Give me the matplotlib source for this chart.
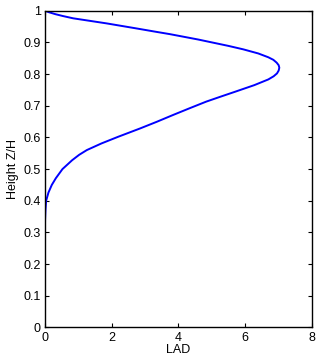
import matplotlib
matplotlib.use("Agg")
import matplotlib.pyplot as plt

plt.rcParams['font.family'] = ['Liberation Sans', 'DejaVu Sans']

# LAD profile (height ascending)
height = [0.0, 0.20, 0.25, 0.30, 0.34, 0.37, 0.40, 0.426, 0.45, 0.471, 0.50, 0.528,
          0.545, 0.56, 0.581, 0.602, 0.628, 0.649, 0.671, 0.692, 0.713, 0.729, 0.744,
          0.765, 0.783, 0.793, 0.802, 0.811, 0.820, 0.828, 0.836, 0.845, 0.853, 0.865,
          0.878, 0.889, 0.899, 0.909, 0.918, 0.926, 0.934, 0.944, 0.952, 0.960, 0.968,
          0.976, 0.983, 0.989, 0.995, 1.0]
lad = [0.0, 0.0, 0.001, 0.003, 0.008, 0.02, 0.04, 0.11, 0.21, 0.33, 0.53, 0.82,
       1.03, 1.26, 1.70, 2.20, 2.85, 3.35, 3.85, 4.34, 4.84, 5.28, 5.70,
       6.28, 6.70, 6.86, 6.96, 7.01, 7.03, 7.01, 6.95, 6.85, 6.70, 6.40,
       5.95, 5.50, 5.05, 4.60, 4.15, 3.75, 3.30, 2.75, 2.30, 1.85, 1.35,
       0.85, 0.55, 0.32, 0.13, 0.0]

xticks = [0, 2, 4, 6, 8]
yticks = [0, 0.1, 0.2, 0.3, 0.4, 0.5, 0.6, 0.7, 0.8, 0.9, 1]
ytick_labels = ["0", "0.1", "0.2", "0.3", "0.4", "0.5", "0.6", "0.7", "0.8", "0.9", "1"]

fig = plt.figure(figsize=(3.2, 3.63), dpi=100)
ax = fig.add_axes([0.140, 0.098, 0.834, 0.8725])
ax.plot(lad, height, color='#0000ff', linewidth=1.4, solid_joinstyle='round')
ax.set_xlim(0, 8)
ax.set_ylim(0, 1)
ax.set_xticks(xticks)
ax.set_xticklabels([str(t) for t in xticks])
ax.set_yticks(yticks)
ax.set_yticklabels(ytick_labels)
ax.tick_params(direction='in', top=True, right=True, length=3, width=0.8, labelsize=9, pad=3)
for s in ax.spines.values():
    s.set_linewidth(1.0)
ax.set_xlabel("LAD", fontsize=9, labelpad=0)
ax.set_ylabel("Height Z/H", fontsize=9, labelpad=3)
fig.savefig("out.png", dpi=100)
